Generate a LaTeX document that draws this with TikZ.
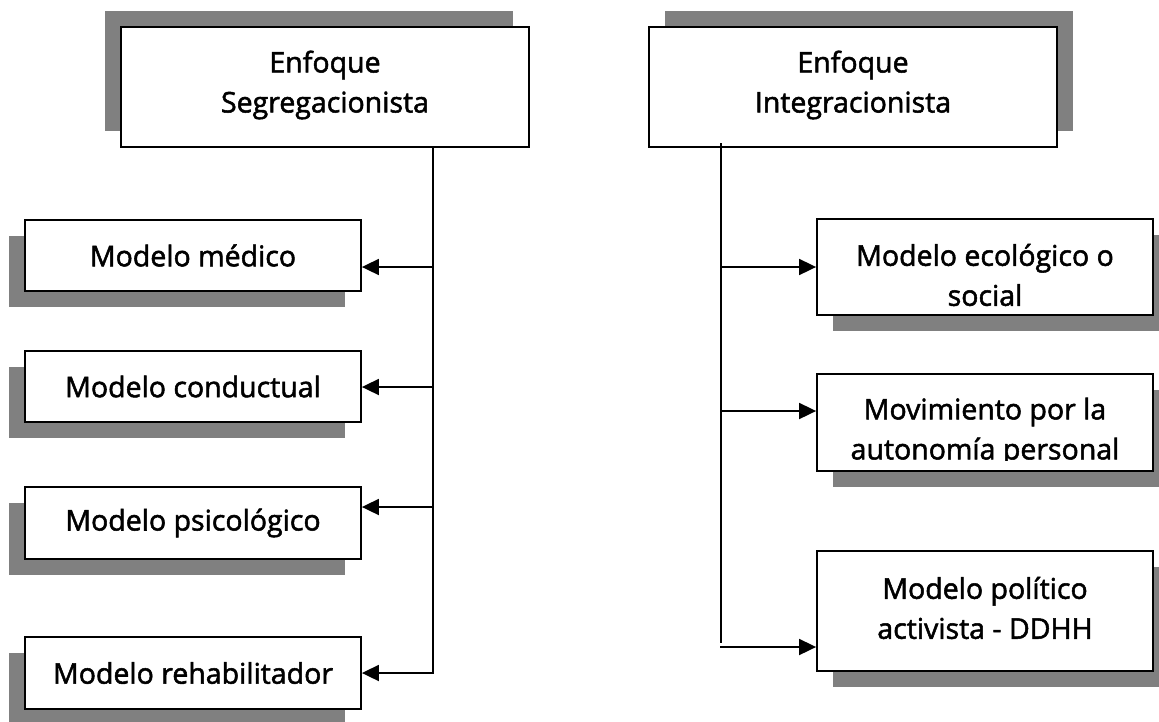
\documentclass[tikz,border=0pt]{standalone}
\usepackage{fontspec}
\setmainfont{Open Sans}[FakeBold=1.8]
\usetikzlibrary{arrows.meta,shadows}
\definecolor{shade}{RGB}{128,128,128}
\tikzset{
  box/.style={draw=black, line width=1.8pt, fill=white, inner sep=0pt, align=center,
    font=\fontsize{28.5}{40}\selectfont},
  shLU/.style={drop shadow={shadow xshift=-16pt, shadow yshift=16pt, fill=shade, opacity=1}},
  shRU/.style={drop shadow={shadow xshift=16pt, shadow yshift=16pt, fill=shade, opacity=1}},
  shLD/.style={drop shadow={shadow xshift=-16pt, shadow yshift=-16pt, fill=shade, opacity=1}},
  shRD/.style={drop shadow={shadow xshift=16pt, shadow yshift=-16pt, fill=shade, opacity=1}},
  conn/.style={line width=1.8pt, draw=black},
  arr/.style={conn, -{Triangle[length=17pt,width=16pt]}},
  txt/.style={inner sep=0pt, align=center, font=\fontsize{28.5}{40}\selectfont}
}
\begin{document}
\begin{tikzpicture}[x=1pt,y=-1pt]
\useasboundingbox (0,0) rectangle (1159,721);
\begin{scope}
\clip (0,0) rectangle (1159,721);
% top boxes
\node[box, shLU, minimum width=408pt, minimum height=120pt] (seg) at (325,87) {};
\node[box, shRU, minimum width=408pt, minimum height=120pt] (int) at (853,87) {};
% left models
\node[box, shLD, minimum width=336pt, minimum height=71pt] (med) at (193,255.5) {Modelo médico};
\node[box, shLD, minimum width=336pt, minimum height=71pt] (con) at (193,386.5) {Modelo conductual};
\node[box, shLD, minimum width=336pt, minimum height=72pt] (psi) at (193,523) {Modelo psicológico};
\node[box, shLD, minimum width=336pt, minimum height=72pt] (reh) at (193,673) {Modelo rehabilitador};
% right models
\node[box, shRD, minimum width=336pt, minimum height=96pt] (eco) at (985,267) {};
\node[box, shRD, minimum width=336pt, minimum height=97pt] (mov) at (985,422.5) {};
\node[box, shRD, minimum width=336pt, minimum height=120pt] (pol) at (985,611) {};
\end{scope}
\node[txt] (segt) at (325,85) {Enfoque\\Segregacionista};
\node[txt] (intt) at (853,85) {Enfoque\\Integracionista};
\node[txt] (ecot) at (985,275) {Modelo ecológico o\\social};
\node[txt] (polt) at (985,608) {Modelo político\\activista - DDHH};
\begin{scope}
\clip (818,375) rectangle (1152,460);
\node[txt] (movt) at (985,432) {Movimiento por la\\autonomía personal};
\end{scope}
% left connectors
\coordinate (sL) at (433,147);
\coordinate (l1) at (433,267);
\coordinate (l2) at (433,387);
\coordinate (l3) at (433,507);
\draw[arr] (sL) |- (reh.east);
\draw[arr] (l1) -- (l1 -| med.east);
\draw[arr] (l2) -- (l2 -| con.east);
\draw[arr] (l3) -- (l3 -| psi.east);
% right connectors
\coordinate (sR) at (721,143);
\coordinate (rE) at (721,643);
\coordinate (r1) at (721,267);
\coordinate (r2) at (721,411);
\coordinate (r3) at (720,647);
\draw[conn] (sR) -- (rE);
\draw[arr] (r1) -- (r1 -| eco.west);
\draw[arr] (r2) -- (r2 -| mov.west);
\draw[arr] (r3) -- (r3 -| pol.west);
\end{tikzpicture}
\end{document}
